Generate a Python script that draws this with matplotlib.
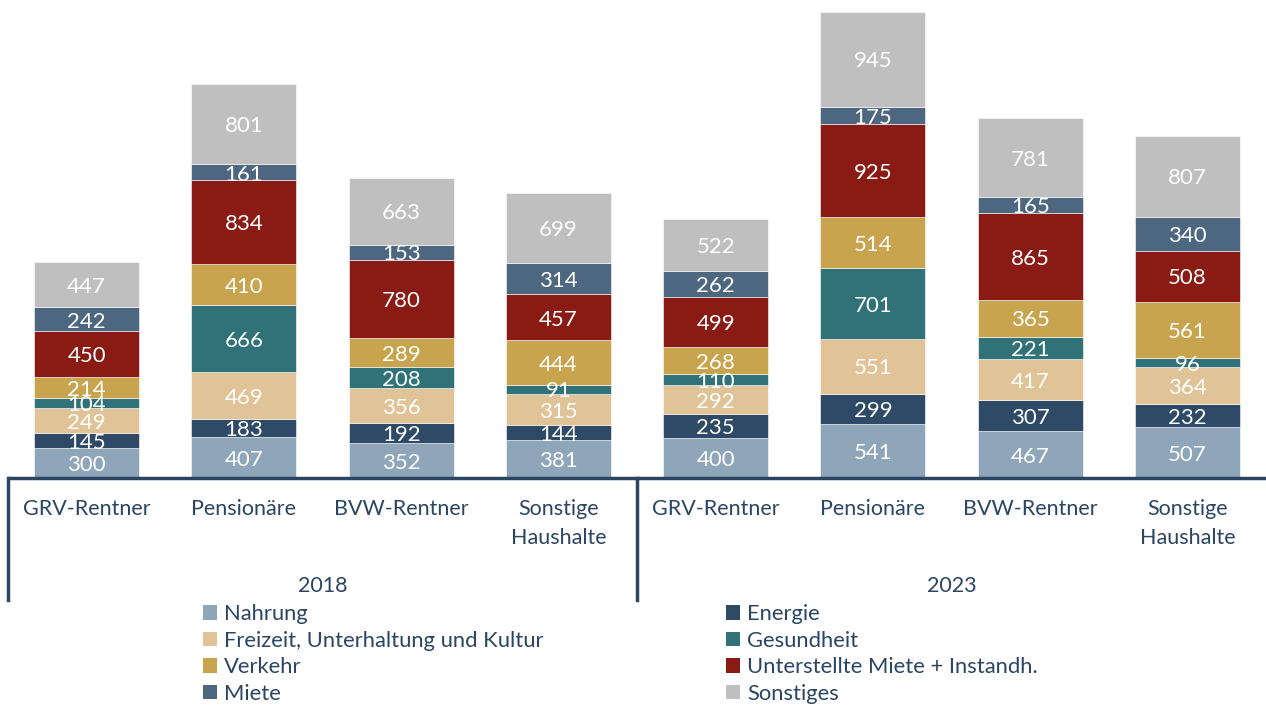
import numpy as np
import matplotlib
matplotlib.use("Agg")
import matplotlib.pyplot as plt
from matplotlib.patches import Patch

plt.rcParams['font.family'] = ['Lato', 'DejaVu Sans']

# data, bottom to top
kategorien = ["GRV-Rentner", "Pensionäre", "BVW-Rentner", "Sonstige\nHaushalte"] * 2
jahre = ["2018", "2023"]
serien = ["Nahrung", "Energie", "Freizeit, Unterhaltung und Kultur", "Gesundheit",
          "Verkehr", "Unterstellte Miete + Instandh.", "Miete", "Sonstiges"]
nahrung    = [300, 407, 352, 381, 400, 541, 467, 507]
energie    = [145, 183, 192, 144, 235, 299, 307, 232]
freizeit   = [249, 469, 356, 315, 292, 551, 417, 364]
gesundheit = [104, 666, 208,  91, 110, 701, 221,  96]
verkehr    = [214, 410, 289, 444, 268, 514, 365, 561]
unt_miete  = [450, 834, 780, 457, 499, 925, 865, 508]
miete      = [242, 161, 153, 314, 262, 175, 165, 340]
sonstiges  = [447, 801, 663, 699, 522, 945, 781, 807]

werte = [nahrung, energie, freizeit, gesundheit, verkehr, unt_miete, miete, sonstiges]
farben = ["#8FA6BA", "#2E4A66", "#E0C498", "#317178", "#C9A44F", "#891A14", "#4D6781", "#BFBFBF"]
navy = "#2B4562"

W, H = 1266, 707
fig = plt.figure(figsize=(W/100, H/100), dpi=100)
axis_y = 478
ax = fig.add_axes([8/W, 1 - axis_y/H, (W-8)/W, axis_y/H])

x = np.arange(len(kategorien))
bottom = np.zeros(len(x))
for name, vals, col in zip(serien, werte, farben):
    vals = np.array(vals)
    ax.bar(x, vals, 0.667, bottom=bottom, color=col, edgecolor="white", linewidth=0.4, label=name)
    for xi, b, v in zip(x, bottom, vals):
        # labels sit a hair below the middle, like the original
        ax.text(xi, b + v/2 - 22, str(v), ha="center", va="center", color="white", fontsize=16)
    bottom += vals

ax.set_xlim(-0.5, 7.5)
ax.set_ylim(0, 4770)
ax.axis("off")

def ay(ypx):
    # pixel row -> axes fraction
    return (axis_y - ypx) / axis_y

tr = ax.get_xaxis_transform()
ax.plot([-0.5, 7.5], [0, 0], color=navy, lw=2.5, transform=tr, clip_on=False, solid_capstyle="butt")
for xv in [-0.5, 3.5]:
    ax.plot([xv, xv], [0, ay(600)], color=navy, lw=2.5, transform=tr, clip_on=False)

for xi, lab in zip(x, kategorien):
    for k, line in enumerate(lab.split("\n")):
        ax.text(xi, ay(515 + 29*k), line, ha="center", va="baseline", color=navy,
                fontsize=15.5, transform=tr)
for j, jahr in enumerate(jahre):
    ax.text(1.5 + 4*j, ay(592), jahr, ha="center", va="baseline", color=navy,
            fontsize=15.5, transform=tr)

handles = [Patch(facecolor=c) for c in farben]
links = [0, 2, 4, 6]
rechts = [1, 3, 5, 7]
for idx, xpx in [(links, 203), (rechts, 726)]:
    leg = fig.legend([handles[i] for i in idx], [serien[i] for i in idx], loc="upper left",
                     bbox_to_anchor=(xpx/W, 1 - 604/H), frameon=False, fontsize=15.8,
                     handlelength=0.65, handleheight=0.65, handletextpad=0.3,
                     labelspacing=0.3, borderpad=0, borderaxespad=0)
    for t in leg.get_texts():
        t.set_color(navy)

fig.savefig("out.png", dpi=100)
